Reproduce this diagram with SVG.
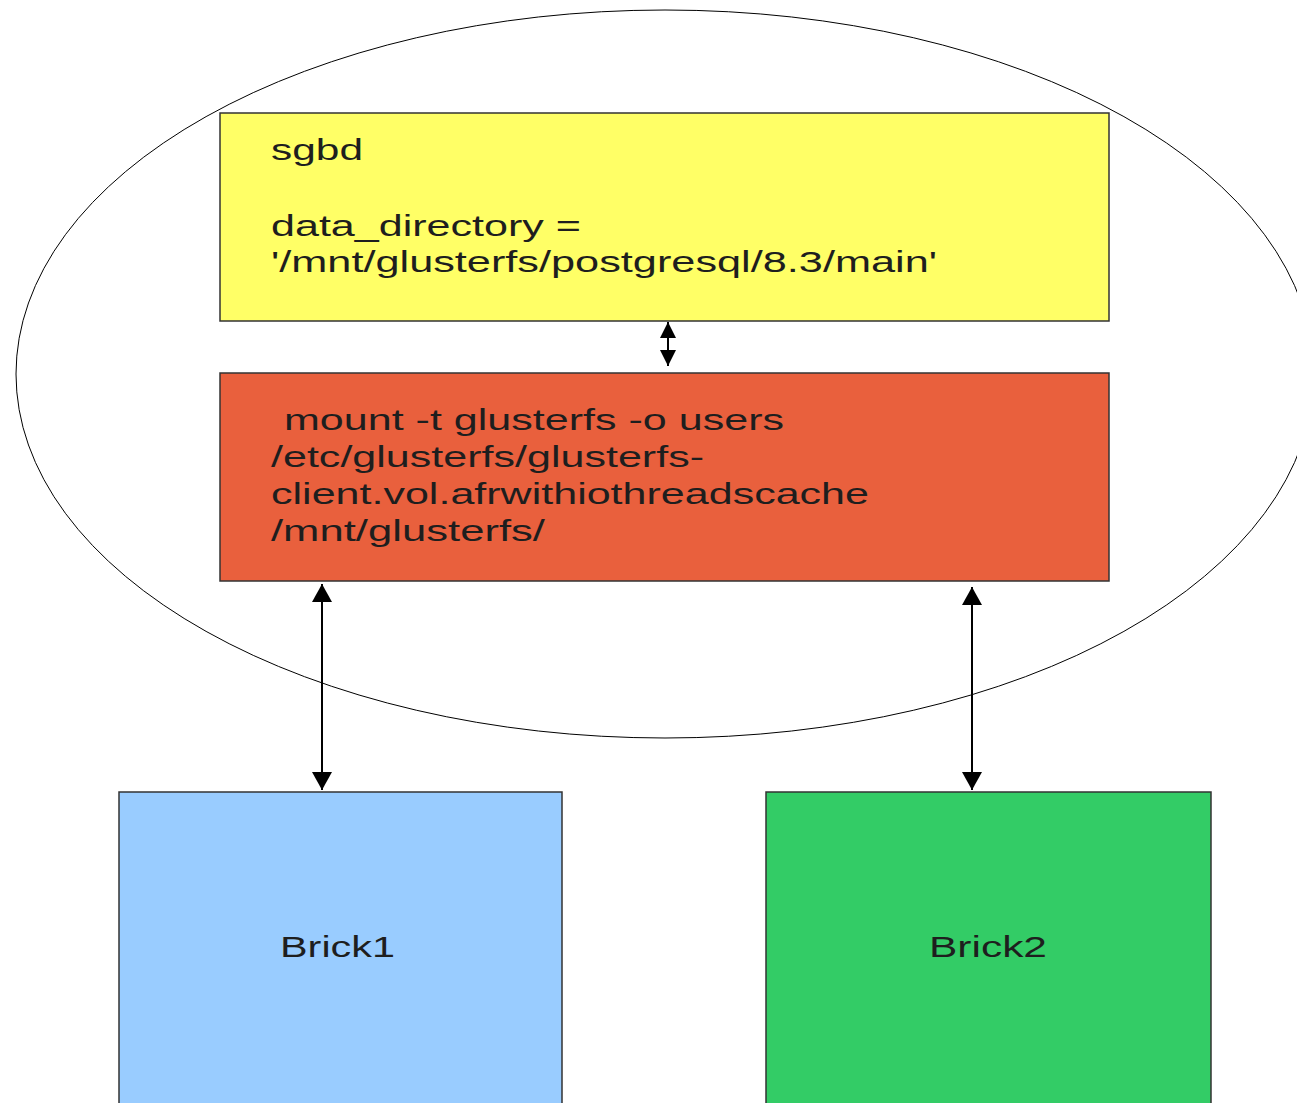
<svg xmlns="http://www.w3.org/2000/svg" width="1297" height="1103" viewBox="0 0 1297 1103">
  <style>
    .box { stroke: #333333; stroke-width: 1.5; }
    .lbl { font-family: "Liberation Sans", Arial, sans-serif; font-size: 30px; fill: #1e1e1e; }
    .conn { stroke: #000000; stroke-width: 2; fill: none; }
  </style>
  <defs>
    <marker id="ah" markerUnits="userSpaceOnUse" markerWidth="20" markerHeight="20" viewBox="0 0 20 20" refX="18" refY="10" orient="auto-start-reverse">
      <path d="M0,0 L18,10 L0,20 z" fill="#000000"/>
    </marker>
    <marker id="ahs" markerUnits="userSpaceOnUse" markerWidth="16" markerHeight="16" viewBox="0 0 16 16" refX="16" refY="8" orient="auto-start-reverse">
      <path d="M0,0 L16,8 L0,16 z" fill="#000000"/>
    </marker>
  </defs>
  <rect width="1297" height="1103" fill="#ffffff"/>

  <g id="host">
    <ellipse cx="665" cy="374" rx="649" ry="364" fill="none" stroke="#000000" stroke-width="1"/>
  </g>

  <g id="sgbd">
    <rect class="box" x="220" y="113" width="889" height="208" fill="#ffff66"/>
    <text class="lbl" x="271" y="160" textLength="92" lengthAdjust="spacingAndGlyphs">sgbd</text>
    <text class="lbl" x="271" y="236" textLength="310" lengthAdjust="spacingAndGlyphs">data_directory =</text>
    <text class="lbl" x="271" y="272" textLength="666" lengthAdjust="spacingAndGlyphs">'/mnt/glusterfs/postgresql/8.3/main'</text>
  </g>

  <g id="mount">
    <rect class="box" x="220" y="373" width="889" height="208" fill="#e9603d"/>
    <text class="lbl" x="284" y="430" textLength="500" lengthAdjust="spacingAndGlyphs">mount -t glusterfs -o users</text>
    <text class="lbl" x="271" y="467" textLength="433" lengthAdjust="spacingAndGlyphs">/etc/glusterfs/glusterfs-</text>
    <text class="lbl" x="271" y="504" textLength="598" lengthAdjust="spacingAndGlyphs">client.vol.afrwithiothreadscache</text>
    <text class="lbl" x="271" y="541" textLength="274" lengthAdjust="spacingAndGlyphs">/mnt/glusterfs/</text>
  </g>

  <g id="brick1">
    <rect class="box" x="119" y="792" width="443" height="320" fill="#99ccff"/>
    <text class="lbl" x="280" y="957" textLength="115" lengthAdjust="spacingAndGlyphs">Brick1</text>
  </g>

  <g id="brick2">
    <rect class="box" x="766" y="792" width="445" height="320" fill="#33cc66"/>
    <text class="lbl" x="929" y="957" textLength="118" lengthAdjust="spacingAndGlyphs">Brick2</text>
  </g>

  <g id="connectors">
    <line class="conn" x1="668" y1="322" x2="668" y2="366" marker-start="url(#ahs)" marker-end="url(#ahs)"/>
    <line class="conn" x1="322" y1="584" x2="322" y2="790" marker-start="url(#ah)" marker-end="url(#ah)"/>
    <line class="conn" x1="972" y1="587" x2="972" y2="790" marker-start="url(#ah)" marker-end="url(#ah)"/>
  </g>
</svg>
